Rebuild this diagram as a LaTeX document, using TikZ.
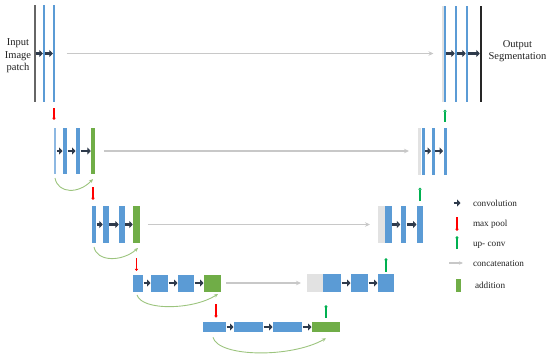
\documentclass[tikz,border=0pt]{standalone}
\usepackage{fontspec}
\setmainfont{Liberation Serif}
\usetikzlibrary{arrows.meta,calc}
\definecolor{ublue}{HTML}{5B9BD5}
\definecolor{lblue}{HTML}{8DB8E2}
\definecolor{ugreen}{HTML}{70AD47}
\definecolor{cgray}{HTML}{E2E2E2}
\definecolor{agray}{HTML}{C8C8C8}
\definecolor{convc}{HTML}{2E3A4B}
\definecolor{upc}{HTML}{00B050}
\definecolor{curvec}{HTML}{9CC47E}
\definecolor{txtc}{HTML}{222222}
\begin{document}
\begin{tikzpicture}[x=1pt,y=-1pt,
  every node/.style={inner sep=0pt,outer sep=0pt},
  bluebar/.style={fill=ublue},
  lightbar/.style={fill=lblue},
  greenbar/.style={fill=ugreen},
  graybar/.style={fill=cgray},
  edgeline/.style={fill=#1},
  conv/.style={draw=convc,line width=2.8pt,-{Triangle[length=3.4pt,width=6.8pt]},shorten <=0.5pt,shorten >=0.5pt},
  concat/.style={draw=agray,line width=1.3pt,-{Stealth[length=5pt,width=4.5pt]}},
  pool/.style={draw=red,line width=1.7pt,-{Triangle[length=2.2pt,width=3.6pt]}},
  upconv/.style={draw=upc,line width=1.7pt,-{Triangle[length=2.2pt,width=3.6pt]}},
  skip/.style={draw=curvec,line width=0.9pt,-{Stealth[length=4pt,width=3.5pt]}},
  lbl/.style={text=txtc,font=\fontsize{10.5}{12.5}\selectfont,align=center},
  leg/.style={text=txtc,font=\fontsize{9.2}{11}\selectfont,anchor=west}
]
\useasboundingbox (0,0) rectangle (550,359);

% ---------- level 0 ----------
\node[edgeline=black!60, minimum width=1.5, minimum height=97] (k0) at (35,53.5) {};
\node[bluebar, minimum width=1.4, minimum height=97] (a01) at (44,53.5) {};
\node[bluebar, minimum width=1.4, minimum height=97] (a02) at (54,53.5) {};
\node[graybar, minimum width=3, minimum height=96] (r0g) at (443,53.5) {};
\node[bluebar, minimum width=1.5, minimum height=96] (r01) at (445,53.5) {};
\node[bluebar, minimum width=1.5, minimum height=96] (r02) at (456,53.5) {};
\node[bluebar, minimum width=1.5, minimum height=96] (r03) at (467,53.5) {};
\node[edgeline=black!85, minimum width=1.5, minimum height=96] (k1) at (481,53.5) {};
\node[lbl] (inp) at (18,56) {Input\\Image\\patch};
\node[lbl] (outp) at (517.5,51) {Output\\Segmentation};

% ---------- level 1 ----------
\node[lightbar, minimum width=2.5, minimum height=46] (l1a) at (55,151) {};
\node[bluebar, minimum width=4, minimum height=46] (l1b) at (65,151) {};
\node[bluebar, minimum width=4, minimum height=46] (l1c) at (78,151) {};
\node[greenbar, minimum width=3.5, minimum height=46] (g1) at (93,151) {};
\node[graybar, minimum width=3, minimum height=47] (r1g) at (419.5,151) {};
\node[bluebar, minimum width=3, minimum height=47] (r1a) at (423,151) {};
\node[bluebar, minimum width=3, minimum height=47] (r1b) at (433,151) {};
\node[bluebar, minimum width=3, minimum height=47] (r1c) at (445,151) {};

% ---------- level 2 ----------
\node[bluebar, minimum width=4.5, minimum height=37] (l2a) at (94,224.5) {};
\node[bluebar, minimum width=5.5, minimum height=37] (l2b) at (106,224.5) {};
\node[bluebar, minimum width=5.5, minimum height=37] (l2c) at (122,224.5) {};
\node[greenbar, minimum width=6.5, minimum height=37] (g2) at (136.5,224.5) {};
\node[graybar, minimum width=7, minimum height=37] (r2g) at (381.5,224.5) {};
\node[bluebar, minimum width=6.5, minimum height=37] (r2a) at (388.5,224.5) {};
\node[bluebar, minimum width=5.5, minimum height=37] (r2b) at (403.5,224.5) {};
\node[bluebar, minimum width=6, minimum height=37] (r2c) at (420,224.5) {};

% ---------- level 3 ----------
\node[bluebar, minimum width=10, minimum height=17] (l3a) at (138,283) {};
\node[bluebar, minimum width=17, minimum height=17] (l3b) at (159.5,283) {};
\node[bluebar, minimum width=16, minimum height=17] (l3c) at (186,283) {};
\node[greenbar, minimum width=17, minimum height=17] (g3) at (212.5,283) {};
\node[graybar, minimum width=16, minimum height=18] (r3g) at (315,283) {};
\node[bluebar, minimum width=18, minimum height=18] (r3a) at (332,283) {};
\node[bluebar, minimum width=17, minimum height=18] (r3b) at (359.5,283) {};
\node[bluebar, minimum width=16, minimum height=18] (r3c) at (386,283) {};

% ---------- level 4 ----------
\node[bluebar, minimum width=23, minimum height=10.5] (l4a) at (214.5,327) {};
\node[bluebar, minimum width=29, minimum height=10.5] (l4b) at (248.5,327) {};
\node[bluebar, minimum width=29, minimum height=10.5] (l4c) at (287.5,327) {};
\node[greenbar, minimum width=28, minimum height=10.5] (g4) at (326,327) {};

% ---------- convolutions ----------
\foreach \a/\b in {k0/a01,a01/a02,r01/r02,r02/r03,r03/k1,
                   l1a/l1b,l1b/l1c,l1c/g1,r1a/r1b,r1b/r1c,
                   l2a/l2b,l2b/l2c,l2c/g2,r2a/r2b,r2b/r2c,
                   l3a/l3b,l3b/l3c,l3c/g3,r3a/r3b,r3b/r3c,
                   l4a/l4b,l4b/l4c,l4c/g4}
  \draw[conv] (\a) -- (\b);

% ---------- concatenations ----------
\draw[concat, shorten <=12pt, shorten >=8pt] (a02) -- (r0g);
\draw[concat, shorten <=9pt, shorten >=9pt] (g1) -- (r1g);
\draw[concat, shorten <=8pt, shorten >=8pt] (g2) -- (r2g);
\draw[concat, shorten <=5pt, shorten >=6pt] (g3) -- (r3g);

% ---------- max pool ----------
\draw[pool, shorten <=6pt, shorten >=8pt] (a02.south) -- (a02.south |- l1a.north);
\draw[pool, shorten <=13pt, shorten >=6pt] (g1.south) -- (g1.south |- l2a.north);
\draw[pool, shorten <=15pt, shorten >=3.5pt] (g2.south) -- (g2.south |- l3a.north);
\draw[pool, shorten <=12.5pt, shorten >=4pt] ([xshift=3.5pt]g3.south) -- ([xshift=3.5pt]g3.south |- l4a.north);

% ---------- up-conv ----------
\draw[upconv, shorten <=4pt, shorten >=13pt] (g4.north) -- (g4.north |- r3a.south);
\draw[upconv, shorten <=2.5pt, shorten >=15pt] (r3c.north) -- (r3c.north |- r2c.south);
\draw[upconv, shorten <=5pt, shorten >=13pt] (r2c.north) -- (r2c.north |- r1c.south);
\draw[upconv, shorten <=6pt, shorten >=8pt] (r1c.north) -- (r1c.north |- r03.south);

% ---------- residual (addition) curves ----------
\draw[skip] ([yshift=-4pt]l1a.south) .. controls +(3,16) and +(-14,15) .. ([yshift=-5pt]g1.south);
\draw[skip] ([yshift=-4pt]l2a.south) .. controls +(3,15) and +(-16,14) .. ([xshift=1.5pt,yshift=-5pt]g2.south);
\draw[skip] ([xshift=-1pt,yshift=-3.5pt]l3a.south) .. controls +(5,16) and +(-25,16) .. ([xshift=5.5pt,yshift=-2.5pt]g3.south);
\draw[skip] ([xshift=-1.5pt,yshift=-5pt]l4a.south) .. controls +(5,20) and +(-35,20) .. ([yshift=-6pt]g4.south);

% ---------- legend ----------
\coordinate (lc1) at (453,203);
\coordinate (lc2) at (461,203);
\draw[conv] (lc1) -- (lc2);
\node[leg] (tconv) at (473,203) {convolution};
\coordinate (lp1) at (457,217);
\coordinate (lp2) at (457,231);
\draw[pool] (lp1) -- (lp2);
\node[leg] (tpool) at (473,224.5) {max pool};
\coordinate (lu1) at (457,249);
\coordinate (lu2) at (457,236);
\draw[upconv] (lu1) -- (lu2);
\node[leg] (tup) at (473,245) {up- conv};
\coordinate (lg1) at (449,263);
\coordinate (lg2) at (463,263);
\draw[concat, line width=1.1pt, -{Stealth[length=4pt,width=3.5pt]}] (lg1) -- (lg2);
\node[leg] (tcat) at (473,263) {concatenation};
\node[greenbar, minimum width=5.5, minimum height=13] (ladd) at (458.5,285.5) {};
\node[leg] (tadd) at (475,285) {addition};
\end{tikzpicture}
\end{document}
